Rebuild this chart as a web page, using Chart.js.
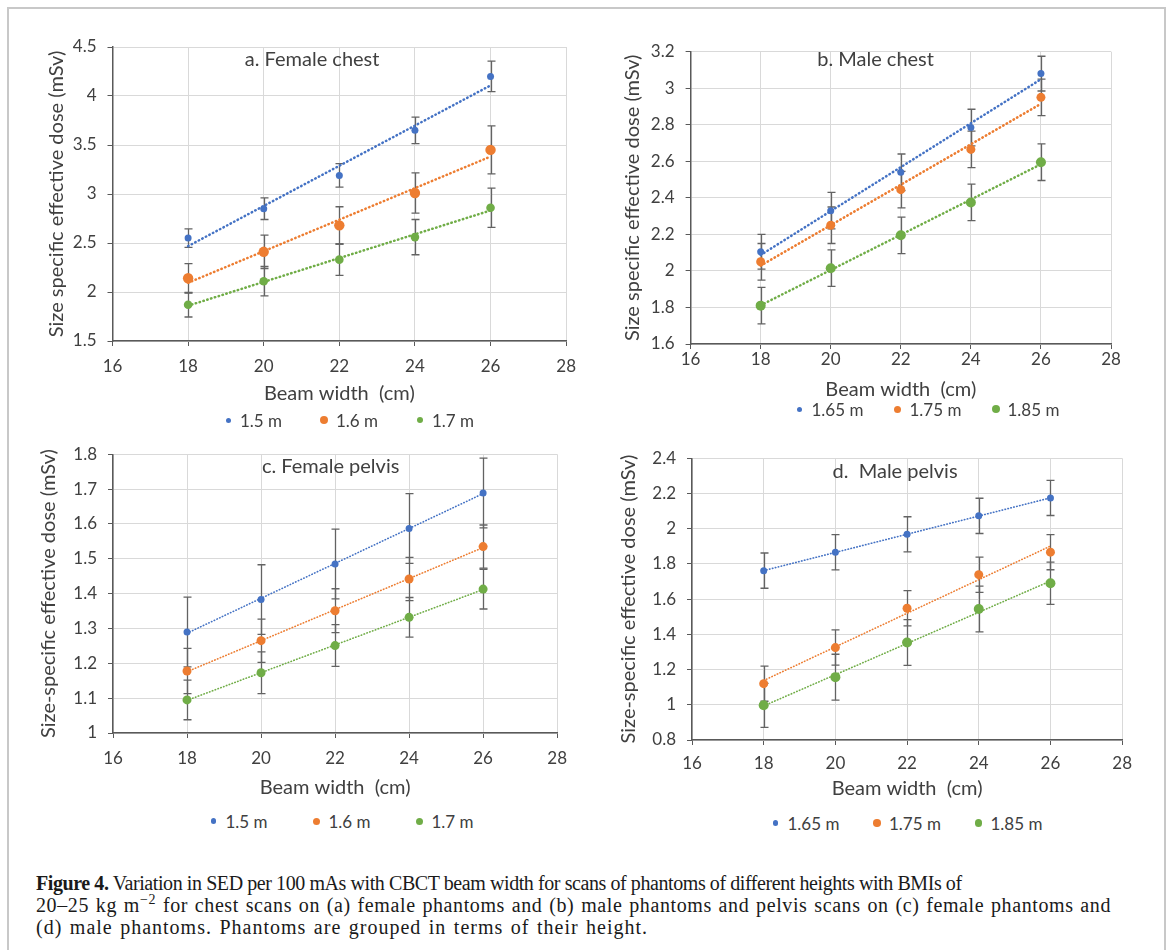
<!DOCTYPE html>
<html>
<head>
<meta charset="utf-8">
<script src="https://cdn.jsdelivr.net/npm/chart.js@4.4.1/dist/chart.umd.min.js"></script>
<style>
    body { margin: 0; background: #fff; width: 1171px; height: 950px; overflow: hidden; position: relative; font-family: Lato, sans-serif; }
    .frame { position: absolute; left: 7px; top: 7px; width: 1155px; height: 1000px; border: 2px solid #c8c8c8; }
    canvas { position: absolute; }
    .legend { position: absolute; display: flex; align-items: center; font: 17px Lato, sans-serif; color: #404040; height: 20px; }
    .legend .item { display: flex; align-items: center; flex: none; }
    .legend .box { width: 10px; height: 10px; display: flex; align-items: center; justify-content: center; margin-right: 7px; }
    .legend .dot { border-radius: 50%; }
    .caption { position: absolute; left: 36px; top: 872px; font: 20px/22px "Liberation Serif", serif; color: #1a1a1a; white-space: nowrap; }
    .caption span { display: block; }
    .caption .l1 { letter-spacing: -0.42px; }
    .caption .l2 { letter-spacing: 0.6px; word-spacing: 1.2px; }
    .caption .l3 { letter-spacing: 1px; word-spacing: 1.5px; }
    .caption sup { font-size: 0.7em; line-height: 0; }
</style>
</head>
<body>
<div class="frame"></div>
<canvas id="femaleChest" width="576" height="394" style="left:10px;top:10px"></canvas>
<canvas id="maleChest" width="530" height="385" style="left:595px;top:15px"></canvas>
<canvas id="femalePelvis" width="567" height="378" style="left:10px;top:420px"></canvas>
<canvas id="malePelvis" width="545" height="374" style="left:595px;top:425px"></canvas>
<div class="caption"><span class="l1"><b>Figure 4.</b> Variation in SED per 100 mAs with CBCT beam width for scans of phantoms of different heights with BMIs of</span><span class="l2">20–25 kg m<sup>−2</sup> for chest scans on (a) female phantoms and (b) male phantoms and pelvis scans on (c) female phantoms and</span><span class="l3">(d) male phantoms. Phantoms are grouped in terms of their height.</span></div>
<script>
const $ = id => document.getElementById(id);

// beam width (cm) and axis ticks
const beamWidth = [18, 20, 22, 24, 26];
const xTicks = [16, 18, 20, 22, 24, 26, 28];

const femaleHeights = ["1.5 m", "1.6 m", "1.7 m"];
const maleHeights = ["1.65 m", "1.75 m", "1.85 m"];
const colors = ["#4472c4", "#ed7d31", "#70ad47"];

// a. female chest
const femaleChestTicks = [1.5, 2, 2.5, 3, 3.5, 4, 4.5];
const femaleChest15 = [2.55, 2.85, 3.19, 3.65, 4.20];
const femaleChest15Err = [0.095, 0.11, 0.12, 0.135, 0.155];
const femaleChest16 = [2.14, 2.41, 2.68, 3.01, 3.45];
const femaleChest16Err = [0.15, 0.17, 0.19, 0.205, 0.245];
const femaleChest17 = [1.87, 2.11, 2.33, 2.56, 2.86];
const femaleChest17Err = [0.125, 0.15, 0.16, 0.18, 0.2];

// b. male chest
const maleChestTicks = [1.6, 1.8, 2, 2.2, 2.4, 2.6, 2.8, 3, 3.2];
const maleChest165 = [2.105, 2.33, 2.54, 2.785, 3.08];
const maleChest165Err = [0.095, 0.1, 0.1, 0.1, 0.095];
const maleChest175 = [2.05, 2.25, 2.445, 2.665, 2.95];
const maleChest175Err = [0.1, 0.1, 0.1, 0.1, 0.1];
const maleChest185 = [1.81, 2.015, 2.195, 2.375, 2.595];
const maleChest185Err = [0.1, 0.1, 0.1, 0.1, 0.1];

// c. female pelvis
const femalePelvisTicks = [1, 1.1, 1.2, 1.3, 1.4, 1.5, 1.6, 1.7, 1.8];
const femalePelvis15 = [1.29, 1.383, 1.485, 1.587, 1.689];
const femalePelvis15Err = [0.1, 0.1, 0.1, 0.1, 0.1];
const femalePelvis16 = [1.178, 1.265, 1.351, 1.442, 1.535];
const femalePelvis16Err = [0.065, 0.062, 0.063, 0.062, 0.062];
const femalePelvis17 = [1.095, 1.173, 1.251, 1.332, 1.413];
const femalePelvis17Err = [0.057, 0.06, 0.06, 0.057, 0.057];

// d. male pelvis
const malePelvisTicks = [0.8, 1, 1.2, 1.4, 1.6, 1.8, 2, 2.2, 2.4];
const malePelvis165 = [1.762, 1.866, 1.968, 2.073, 2.175];
const malePelvis165Err = [0.1, 0.1, 0.1, 0.1, 0.1];
const malePelvis175 = [1.12, 1.325, 1.548, 1.739, 1.867];
const malePelvis175Err = [0.1, 0.1, 0.1, 0.1, 0.1];
const malePelvis185 = [0.997, 1.157, 1.354, 1.544, 1.69];
const malePelvis185Err = [0.125, 0.13, 0.13, 0.13, 0.12];

const TEXT = "#404040";
const AXIS = "#595959";

// least squares line over the five beam widths
function tendencia(xs, ys) {
    const n = xs.length;
    const mx = xs.reduce((s, v) => s + v, 0) / n;
    const my = ys.reduce((s, v) => s + v, 0) / n;
    let sxy = 0, sxx = 0;
    xs.forEach((x, i) => {
        sxy += (x - mx) * (ys[i] - my);
        sxx += (x - mx) * (x - mx);
    });
    const b = sxy / sxx;
    const a = my - b * mx;
    return [xs[0], xs[n - 1]].map(x => ({ x, y: a + b * x }));
}

const errorBars = {
    id: "errorBars",
    beforeDatasetsDraw(chart) {
        const { ctx, scales: { x, y } } = chart;
        ctx.save();
        ctx.strokeStyle = "#636363";
        ctx.lineWidth = 1.3;
        chart.data.datasets.forEach(ds => {
            if (!ds.err) return;
            ds.data.forEach((p, i) => {
                const px = Math.round(x.getPixelForValue(p.x)) + 0.5;
                const top = y.getPixelForValue(p.y + ds.err[i]);
                const bot = y.getPixelForValue(p.y - ds.err[i]);
                ctx.beginPath();
                ctx.moveTo(px, top);
                ctx.lineTo(px, bot);
                ctx.moveTo(px - 4, top);
                ctx.lineTo(px + 4, top);
                ctx.moveTo(px - 4, bot);
                ctx.lineTo(px + 4, bot);
                ctx.stroke();
            });
        });
        ctx.restore();
    }
};

const panelLabel = {
    id: "panelLabel",
    afterDraw(chart, args, opts) {
        const { ctx, chartArea: a } = chart;
        ctx.save();
        ctx.font = "20px Lato";
        ctx.fillStyle = TEXT;
        ctx.textAlign = "center";
        ctx.textBaseline = "middle";
        ctx.fillText(opts.text, a.left + opts.at * (a.right - a.left), a.top + opts.dy);
        ctx.restore();
    }
};

const fmt = v => String(+Number(v).toFixed(2));

function criarPainel(id, p) {
    const datasets = [];
    p.series.forEach((s, k) => datasets.push({
        label: s.label,
        data: beamWidth.map((x, i) => ({ x, y: s.values[i] })),
        err: s.err,
        backgroundColor: colors[k],
        borderColor: colors[k],
        borderWidth: 0,
        pointRadius: s.r,
        pointHoverRadius: s.r
    }));
    p.series.forEach((s, k) => datasets.push({
        type: "line",
        label: s.label + " trend",
        data: tendencia(beamWidth, s.values),
        borderColor: colors[k],
        borderWidth: p.trendWidth,
        borderDash: p.trendDash,
        borderCapStyle: "round",
        pointRadius: 0,
        fill: false
    }));

    new Chart($(id), {
        type: "scatter",
        data: { datasets },
        plugins: [errorBars, panelLabel],
        options: {
            responsive: false,
            animation: false,
            devicePixelRatio: 1,
            layout: { padding: { left: 0, top: p.padTop, right: 14, bottom: 0 } },
            plugins: {
                legend: { display: false },
                tooltip: { enabled: false },
                panelLabel: p.title
            },
            scales: {
                x: {
                    type: "linear",
                    min: xTicks[0],
                    max: xTicks[xTicks.length - 1],
                    afterBuildTicks: s => { s.ticks = xTicks.map(value => ({ value })); },
                    afterFit: s => { s.height = p.xHeight; },
                    ticks: { color: TEXT, font: { size: 17 }, padding: p.xTickPad, callback: fmt },
                    grid: { color: "#d9d9d9", tickColor: AXIS, tickLength: 5 },
                    border: { color: AXIS, width: 1.5 },
                    title: { display: true, text: "Beam width  (cm)", color: TEXT, font: { size: 20 }, padding: { top: 0, bottom: -1.2 } }
                },
                y: {
                    type: "linear",
                    min: p.yTicks[0],
                    max: p.yTicks[p.yTicks.length - 1],
                    afterBuildTicks: s => { s.ticks = p.yTicks.map(value => ({ value })); },
                    afterFit: s => { s.width = p.yWidth; },
                    ticks: { color: TEXT, font: { size: 17 }, padding: 11, callback: fmt },
                    grid: { color: "#d9d9d9", tickColor: AXIS, tickLength: 5 },
                    border: { color: AXIS, width: 1.5 },
                    title: { display: true, text: p.yTitle, color: TEXT, font: { size: 20 }, padding: { top: p.yTitlePad, bottom: 0 } }
                }
            }
        }
    });

    // html legend
    const leg = document.createElement("div");
    leg.className = "legend";
    leg.style.left = p.legend.x + "px";
    leg.style.top = (p.legend.y - 10) + "px";
    p.series.forEach((s, k) => {
        const item = document.createElement("div");
        item.className = "item";
        item.style.width = p.legend.step + "px";
        const box = document.createElement("span");
        box.className = "box";
        const dot = document.createElement("span");
        dot.className = "dot";
        dot.style.width = dot.style.height = s.dot + "px";
        dot.style.background = colors[k];
        box.appendChild(dot);
        const txt = document.createElement("span");
        txt.textContent = s.label;
        item.append(box, txt);
        leg.appendChild(item);
    });
    document.body.appendChild(leg);
}

function desenhar() {
    criarPainel("femaleChest", {
        yTicks: femaleChestTicks,
        yTitle: "Size specific effective dose (mSv)",
        padTop: 37, yWidth: 102.5, yTitlePad: 34.6, xHeight: 63, xTickPad: 10,
        trendWidth: 2.5, trendDash: [0.5, 3.5],
        title: { text: "a. Female chest", at: 0.44, dy: 13 },
        legend: { x: 223, y: 420, step: 96 },
        series: [
            { label: femaleHeights[0], values: femaleChest15, err: femaleChest15Err, r: 3.5, dot: 5 },
            { label: femaleHeights[1], values: femaleChest16, err: femaleChest16Err, r: 5.2, dot: 8.5 },
            { label: femaleHeights[2], values: femaleChest17, err: femaleChest17Err, r: 4.3, dot: 6.5 }
        ]
    });

    criarPainel("maleChest", {
        yTicks: maleChestTicks,
        yTitle: "Size specific effective dose (mSv)",
        padTop: 36.7, yWidth: 95.6, yTitlePad: 26, xHeight: 56, xTickPad: 0,
        trendWidth: 2.5, trendDash: [0.5, 3.5],
        title: { text: "b. Male chest", at: 0.44, dy: 8.3 },
        legend: { x: 794.5, y: 409, step: 98 },
        series: [
            { label: maleHeights[0], values: maleChest165, err: maleChest165Err, r: 3.5, dot: 5 },
            { label: maleHeights[1], values: maleChest175, err: maleChest175Err, r: 4.5, dot: 7 },
            { label: maleHeights[2], values: maleChest185, err: maleChest185Err, r: 5, dot: 8 }
        ]
    });

    criarPainel("femalePelvis", {
        yTicks: femalePelvisTicks,
        yTitle: "Size-specific effective dose (mSv)",
        padTop: 34.3, yWidth: 103, yTitlePad: 27, xHeight: 65, xTickPad: 10,
        trendWidth: 1.6, trendDash: [0.5, 2.5],
        title: { text: "c. Female pelvis", at: 0.49, dy: 12.7 },
        legend: { x: 208.5, y: 821, step: 103 },
        series: [
            { label: femaleHeights[0], values: femalePelvis15, err: femalePelvis15Err, r: 3.5, dot: 5.5 },
            { label: femaleHeights[1], values: femalePelvis16, err: femalePelvis16Err, r: 4.5, dot: 7 },
            { label: femaleHeights[2], values: femalePelvis17, err: femalePelvis17Err, r: 4.5, dot: 7 }
        ]
    });

    criarPainel("malePelvis", {
        yTicks: malePelvisTicks,
        yTitle: "Size-specific effective dose (mSv)",
        padTop: 33.3, yWidth: 97, yTitlePad: 22, xHeight: 59, xTickPad: 8,
        trendWidth: 1.6, trendDash: [0.5, 2.5],
        title: { text: "d.  Male pelvis", at: 0.472, dy: 13.7 },
        legend: { x: 770.5, y: 823, step: 101.5 },
        series: [
            { label: maleHeights[0], values: malePelvis165, err: malePelvis165Err, r: 3.5, dot: 5.5 },
            { label: maleHeights[1], values: malePelvis175, err: malePelvis175Err, r: 4.5, dot: 7.5 },
            { label: maleHeights[2], values: malePelvis185, err: malePelvis185Err, r: 5, dot: 7.5 }
        ]
    });
}

Chart.defaults.font.family = "Lato, sans-serif";
document.fonts.load("17px Lato").then(desenhar, desenhar);
</script>
</body>
</html>
